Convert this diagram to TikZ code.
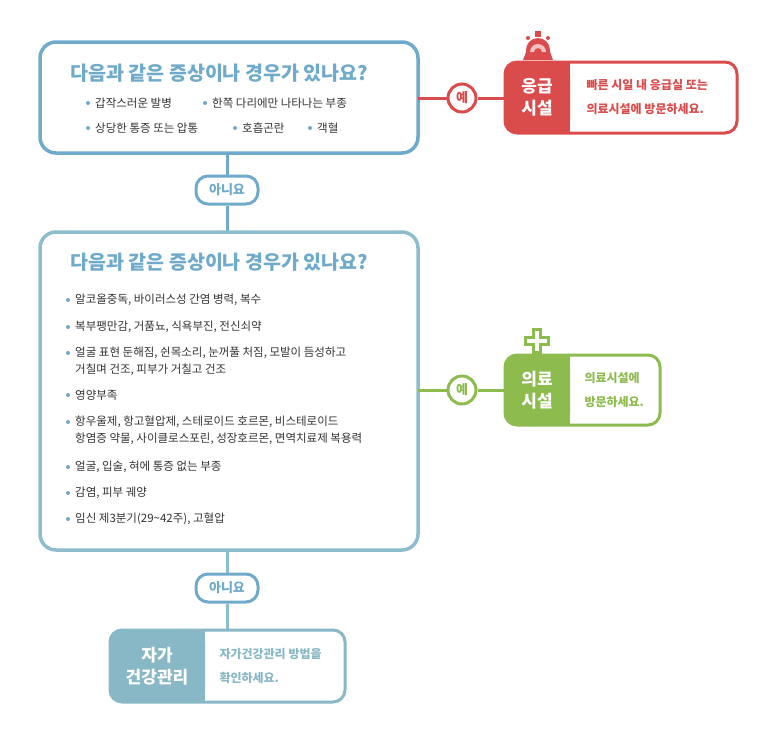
\documentclass[tikz,border=0pt]{standalone}
\usepackage{fontspec}
\setmainfont{Noto Sans CJK KR}
\begin{document}
\begin{tikzpicture}[x=1pt,y=-1pt,
  bl/.style={draw=c1,line width=3.5pt,rounded corners=16pt},
  pill/.style={draw=c1,line width=3pt,fill=white,rounded corners=12pt,minimum width=62pt,minimum height=28pt,font=\bfseries\fontsize{13}{13}\selectfont,text=c1,inner sep=0pt},
  yes/.style={circle,draw=#1,line width=3pt,fill=white,minimum size=28pt,inner sep=0pt,font=\bfseries\fontsize{13}{13}\selectfont,text=#1},
  it/.style={anchor=west,font=\fontsize{11.5}{17}\selectfont,text=black!80,align=left,inner sep=0pt},
  dot/.style={circle,fill=c1,inner sep=0pt,minimum size=4pt}]
\definecolor{c1}{HTML}{6FAACA}
\definecolor{c2}{HTML}{8DBDCB}
\definecolor{cr}{HTML}{DA4B4C}
\definecolor{cg}{HTML}{8DBB4E}
\definecolor{ct}{HTML}{88B7C5}
\useasboundingbox (0,0) rectangle (780,729);
% vertical connectors
\coordinate (t1) at (227,153);
\node[pill] (p1) at (227,190) {아니요};
\node[pill] (p2) at (227,588) {아니요};
\draw[c1,line width=3pt] (t1) -- (p1) -- (227,232);
\draw[c2,line width=3pt] (227,550) -- (p2) -- (227,630);
% box 1
\draw[bl,fill=white] (40,42) rectangle (418,153);
\node[anchor=west,text=c1,font=\bfseries\fontsize{19.5}{19}\selectfont] (h1) at (67,73) {다음과 같은 증상이나 경우가 있나요?};
\foreach \x/\y/\t in {88/103/갑작스러운 발병, 205/103/한쪽 다리에만 나타나는 부종, 88/128/상당한 통증 또는 압통, 235/128/호흡곤란, 310/128/객혈}{
  \node[dot] at (\x,\y) {};
  \node[it] at (\x+7,\y) {\t};}
% red
\coordinate (r0) at (418,98);
\node[yes=cr] (y1) at (462,98) {예};
\draw[cr,line width=3pt] (r0) -- (y1) -- (505,98);
\fill[cr,rounded corners=12pt] (505,62) rectangle (570,133);
\fill[cr] (550,62) rectangle (570,133);
\draw[cr,line width=3pt,rounded corners=12pt] (505,62) rectangle (737,133);
\node[text=white,font=\bfseries\fontsize{17}{22}\selectfont,align=center] (n1) at (537,97) {응급\\시설};
\node[anchor=west,text=cr,font=\bfseries\fontsize{12}{24}\selectfont,align=left] (d1) at (583,97) {빠른 시일 내 응급실 또는\\의료시설에 방문하세요.};
% siren
\fill[cr] (523,60) -- (526,52) -- (526,50) arc (180:360:12) -- (550,52) -- (553,60) -- cycle;
\fill[cr!35] (530,52) arc (180:360:8) -- (542,52) arc (360:180:4) -- cycle;
\fill[cr] (535,31) rectangle (541,37);
\fill[cr] (528,38) circle (2); \fill[cr] (548,38) circle (2);
% box 2
\draw[bl,draw=c2,fill=white] (40,232) rectangle (418,550);
\node[anchor=west,text=c1,font=\bfseries\fontsize{19.5}{19}\selectfont] (h2) at (67,262) {다음과 같은 증상이나 경우가 있나요?};
\foreach \y/\t in {300/{알코올중독, 바이러스성 간염 병력, 복수}, 327/{복부팽만감, 거품뇨, 식욕부진, 전신쇠약}, 353/{얼굴 표현 둔해짐, 쉰목소리, 눈꺼풀 처짐, 모발이 듬성하고}, 395/{영양부족}, 422/{항우울제, 항고혈압제, 스테로이드 호르몬, 비스테로이드}, 467/{얼굴, 입술, 혀에 통증 없는 부종}, 493/{감염, 피부 궤양}, 519/{임신 제3분기(29\textasciitilde 42주), 고혈압}}{
  \node[dot] at (68,\y) {};
  \node[it] at (75,\y) {\t};}
\node[it] at (75,370) {거칠며 건조, 피부가 거칠고 건조};
\node[it] at (75,439) {항염증 약물, 사이클로스포린, 성장호르몬, 면역치료제 복용력};
% green
\coordinate (g0) at (418,390);
\node[yes=cg] (y2) at (462,390) {예};
\draw[cg,line width=3pt] (g0) -- (y2) -- (505,390);
\fill[cg,rounded corners=12pt] (505,355) rectangle (570,425);
\fill[cg] (550,355) rectangle (570,425);
\draw[cg,line width=3pt,rounded corners=12pt] (505,355) rectangle (660,425);
\node[text=white,font=\bfseries\fontsize{17}{22}\selectfont,align=center] (n2) at (537,390) {의료\\시설};
\node[anchor=west,text=cg,font=\bfseries\fontsize{12}{24}\selectfont,align=left] (d2) at (581,390) {의료시설에\\방문하세요.};
\fill[cg] (532,328) rectangle (542,354); \fill[cg] (524,336) rectangle (550,346);
\fill[white] (535,331) rectangle (539,351); \fill[white] (527,339) rectangle (547,343);
% bottom
\fill[ct,rounded corners=12pt] (110,630) rectangle (205,702);
\fill[ct] (185,630) rectangle (205,702);
\draw[ct,line width=3pt,rounded corners=12pt] (110,630) rectangle (345,702);
\node[text=white,font=\bfseries\fontsize{17}{22}\selectfont,align=center] (n3) at (157,666) {자가\\건강관리};
\node[anchor=west,text=ct,font=\bfseries\fontsize{12}{24}\selectfont,align=left] (d3) at (216,666) {자가건강관리 방법을\\확인하세요.};
\end{tikzpicture}
\end{document}
